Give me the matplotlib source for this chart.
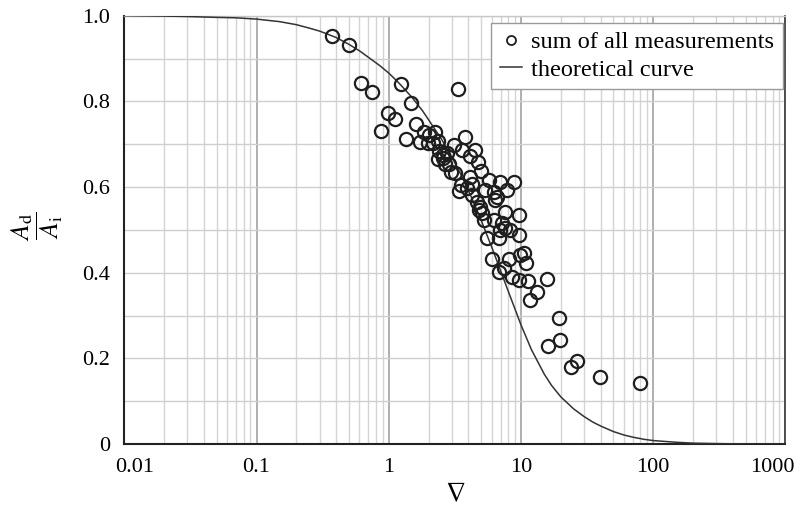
import matplotlib
matplotlib.use('Agg')
import matplotlib.pyplot as plt
from matplotlib.lines import Line2D
from matplotlib.ticker import LogLocator, MultipleLocator, FixedLocator, FixedFormatter, NullFormatter
import matplotlib.transforms as mtransforms

plt.rcParams['font.family'] = ['Liberation Serif', 'DejaVu Serif']
plt.rcParams['mathtext.fontset'] = 'stix'

# measurements (nabla, Ad/Ai)
nabla = [0.37, 0.50, 0.62, 0.75, 1.24, 3.34, 1.48, 0.99, 1.12, 0.875,
         1.61, 1.35, 1.73, 1.85, 2.02, 2.24, 1.98, 2.16, 2.36, 2.40,
         2.58, 2.36, 2.58, 2.76, 2.67, 2.86, 2.96, 3.17, 3.12, 3.78,
         3.59, 4.12, 4.50, 4.74, 4.99, 4.12, 4.27, 3.52, 3.40, 3.91,
         5.74, 6.95, 8.87, 5.35, 6.26, 6.60, 6.37, 7.85, 4.27, 4.66,
         4.91, 4.82, 5.08, 7.58, 9.67, 5.26, 6.26, 7.19, 7.58, 6.95,
         8.27, 9.67, 5.54, 6.83, 6.05, 8.13, 9.85, 10.6, 10.9, 6.83,
         7.45, 8.57, 9.67, 11.3, 15.8, 13.2, 11.7, 19.4, 16.0, 19.8,
         23.9, 26.6, 39.7, 79.6]
ratio = [0.953, 0.932, 0.843, 0.822, 0.841, 0.829, 0.796, 0.773, 0.759, 0.731,
         0.747, 0.712, 0.705, 0.728, 0.721, 0.728, 0.703, 0.703, 0.707, 0.684,
         0.675, 0.665, 0.668, 0.679, 0.654, 0.654, 0.635, 0.633, 0.698, 0.717,
         0.686, 0.672, 0.686, 0.658, 0.637, 0.623, 0.607, 0.605, 0.591, 0.598,
         0.616, 0.612, 0.612, 0.593, 0.588, 0.577, 0.570, 0.593, 0.581, 0.565,
         0.553, 0.546, 0.539, 0.542, 0.535, 0.523, 0.523, 0.516, 0.504, 0.500,
         0.500, 0.488, 0.481, 0.481, 0.432, 0.432, 0.441, 0.446, 0.423, 0.402,
         0.411, 0.390, 0.383, 0.381, 0.385, 0.355, 0.336, 0.294, 0.229, 0.243,
         0.180, 0.194, 0.156, 0.142]

# theoretical curve
curve_x = [0.01, 0.02, 0.03, 0.05, 0.07, 0.1, 0.15, 0.2, 0.25, 0.3,
           0.4, 0.5, 0.6, 0.7, 0.85, 1.0, 1.2, 1.5, 1.8, 2.0,
           2.5, 3.0, 3.5, 4.0, 4.5, 5.0, 6.0, 7.0, 8.0, 10.0,
           12.0, 15.0, 17.0, 20.0, 25.0, 30.0, 35.0, 40.0, 50.0, 60.0,
           70.0, 85.0, 100.0, 150.0, 200.0, 300.0, 500.0, 1000.0]
curve_y = [1.000, 0.999, 0.998, 0.996, 0.995, 0.992, 0.986, 0.979, 0.971, 0.964,
           0.949, 0.933, 0.918, 0.903, 0.884, 0.866, 0.842, 0.809, 0.778, 0.757,
           0.712, 0.670, 0.630, 0.592, 0.556, 0.522, 0.460, 0.405, 0.357, 0.278,
           0.220, 0.163, 0.137, 0.110, 0.082, 0.064, 0.051, 0.042, 0.029, 0.021,
           0.016, 0.011, 0.008, 0.004, 0.002, 0.001, 0.0, 0.0]

xticks = [0.01, 0.1, 1, 10, 100, 1000]
xtick_labels = ['0.01', '0.1', '1', '10', '100', '1000']
yticks = [0, 0.2, 0.4, 0.6, 0.8, 1.0]
ytick_labels = ['0', '0.2', '0.4', '0.6', '0.8', '1.0']

fig = plt.figure(figsize=(8.02, 5.09), dpi=100)
ax = fig.add_axes([0.155, 0.1277, 0.8244, 0.8415])
ax.set_xscale('log')
ax.set_xlim(0.01, 1000)
ax.set_ylim(0, 1.0)

ax.plot(curve_x, curve_y, color='#333333', lw=1.1, zorder=3)
ax.plot(nabla, ratio, 'o', ms=9.5, mfc='none', mec='#1e1e1e', mew=1.6, zorder=4)

ax.xaxis.set_major_locator(FixedLocator(xticks))
ax.xaxis.set_major_formatter(FixedFormatter(xtick_labels))
ax.xaxis.set_minor_locator(LogLocator(base=10, subs=range(2, 10), numticks=20))
ax.xaxis.set_minor_formatter(NullFormatter())
ax.yaxis.set_major_locator(FixedLocator(yticks))
ax.yaxis.set_major_formatter(FixedFormatter(ytick_labels))
ax.yaxis.set_minor_locator(MultipleLocator(0.1))

ax.set_axisbelow(True)
ax.grid(which='major', axis='x', color='#9a9a9a', lw=1.1)
ax.grid(which='minor', axis='x', color='#d4d4d4', lw=1.0)
ax.grid(which='both', axis='y', color='#cfcfcf', lw=1.0)

ax.tick_params(which='both', length=0, labelsize=16)
ax.tick_params(axis='y', pad=10)
ax.tick_params(axis='x', pad=10)

for s in ['left', 'bottom']:
    ax.spines[s].set_color('#222222')
    ax.spines[s].set_linewidth(1.5)
ax.spines['top'].set_color('#c8c8c8')
ax.spines['top'].set_linewidth(1.0)
ax.spines['right'].set_color('#444444')
ax.spines['right'].set_linewidth(1.3)

ax.set_xlabel(r'$\nabla$', fontsize=20)
ax.xaxis.set_label_coords(0.5, -0.09)
ax.set_ylabel(r'$\dfrac{A_\mathrm{d}}{A_\mathrm{i}}$', fontsize=18.5)
ax.yaxis.set_label_coords(-0.09, 0.508)

h1 = Line2D([], [], ls='none', marker='o', ms=6.5, mfc='none', mec='#1e1e1e', mew=1.3)
h2 = Line2D([], [], color='#333333', lw=1.1)
leg = ax.legend([h1, h2], ['sum of all measurements', 'theoretical curve'],
                loc='upper right', bbox_to_anchor=(0.996, 0.983),
                fontsize=17.5, frameon=True, fancybox=False,
                edgecolor='#9a9a9a', framealpha=1, handlelength=0.9,
                handletextpad=0.4, borderpad=0.35, labelspacing=0.22,
                borderaxespad=0)
leg.get_frame().set_linewidth(1.0)

# end labels sit inside the frame
labels = ax.get_xticklabels()
labels[0].set_transform(labels[0].get_transform() +
                        mtransforms.ScaledTranslation(10 / 100, 0, fig.dpi_scale_trans))
labels[-1].set_transform(labels[-1].get_transform() +
                         mtransforms.ScaledTranslation(-13 / 100, 0, fig.dpi_scale_trans))

fig.savefig('out.png', dpi=100)
